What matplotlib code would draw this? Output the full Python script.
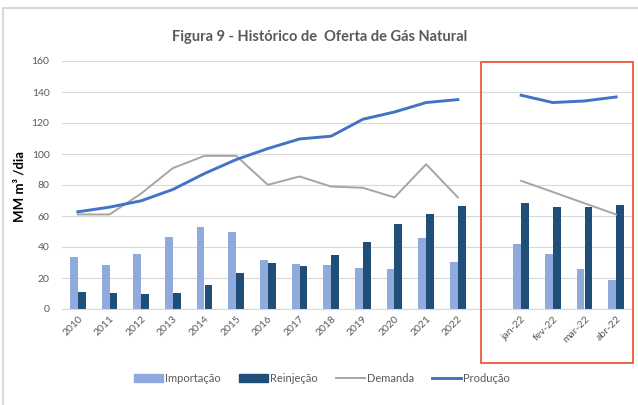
import numpy as np
import matplotlib
matplotlib.use("Agg")
import matplotlib.pyplot as plt
from matplotlib.patches import Rectangle, Patch
from matplotlib.lines import Line2D

plt.rcParams["font.family"] = ["Lato", "DejaVu Sans"]

# data
years = ["2010", "2011", "2012", "2013", "2014", "2015", "2016",
         "2017", "2018", "2019", "2020", "2021", "2022"]
months = ["jan-22", "fev-22", "mar-22", "abr-22"]

importacao_anos = [33.7, 28.4, 35.7, 46.4, 52.6, 50.0, 31.4, 29.0, 28.4, 26.6, 25.8, 45.5, 30.3]
importacao_meses = [41.9, 35.7, 25.8, 18.7]
reinjecao_anos = [11.2, 10.3, 9.5, 10.3, 15.7, 23.4, 29.5, 27.5, 34.8, 43.0, 54.8, 61.0, 66.4]
reinjecao_meses = [68.1, 65.5, 65.5, 67.2]
demanda_anos = [61.0, 61.0, 74.5, 90.9, 98.8, 98.8, 80.1, 85.5, 79.0, 78.2, 72.0, 93.4, 72.0]
demanda_meses = [82.7, 75.5, 68.2, 61.0]
producao_anos = [62.7, 65.7, 69.8, 77.1, 87.4, 96.4, 103.5, 109.7, 111.5, 122.4, 127.1, 133.2, 135.1]
producao_meses = [137.9, 133.2, 134.2, 136.8]

# one empty slot between the yearly and monthly blocks
labels = years + [""] + months
gap = [np.nan]
importacao = np.array(importacao_anos + gap + importacao_meses)
reinjecao = np.array(reinjecao_anos + gap + reinjecao_meses)
demanda = np.array(demanda_anos + gap + demanda_meses)
producao = np.array(producao_anos + gap + producao_meses)
x = np.arange(len(labels))

C_IMP = "#8FAADC"
C_REI = "#1F4E79"
C_DEM = "#A5A5A5"
C_PRO = "#4472C4"
TXT = "#595959"

fig = plt.figure(figsize=(6.38, 4.05), dpi=100)
ax = fig.add_axes([62 / 638, 96 / 405, 570 / 638, 248 / 405])

w = 0.25
ax.bar(x - w / 2, importacao, width=w, color=C_IMP, zorder=2)
ax.bar(x + w / 2, reinjecao, width=w, color=C_REI, zorder=2)
ax.plot(x, demanda, color=C_DEM, lw=1.4, zorder=3)
ax.plot(x, producao, color=C_PRO, lw=2.1, zorder=4)

ax.set_xlim(-0.5, len(labels) - 0.5)
ax.set_ylim(0, 160)
ax.set_yticks(range(0, 161, 20))
ax.yaxis.grid(True, color="#D9D9D9", lw=0.8, zorder=0)
ax.set_axisbelow(True)
for side in ("top", "right", "left"):
    ax.spines[side].set_visible(False)
ax.spines["bottom"].set_color("#D9D9D9")
ax.tick_params(length=0, labelsize=7.5, labelcolor=TXT)
ax.tick_params(axis="y", pad=9)
ax.set_xticks(x)
ax.set_xticklabels(labels, rotation=45, ha="right", rotation_mode="anchor")
ax.tick_params(axis="x", pad=4)

fig.text(20 / 638, 1 - 186 / 405, "MM m³ /dia", rotation=90, ha="center", va="center",
         fontsize=9.5, fontweight="bold", color="black")

fig.text(320 / 638, 1 - 37 / 405, "Figura 9 - Histórico de  Oferta de Gás Natural",
         ha="center", va="center", fontsize=10.5, fontweight="bold", color=TXT)

handles = [
    Patch(color=C_IMP, label="Importação"),
    Patch(color=C_REI, label="Reinjeção"),
    Line2D([], [], color=C_DEM, lw=1.4, label="Demanda"),
    Line2D([], [], color=C_PRO, lw=2.1, label="Produção"),
]
fig.legend(handles=handles, loc="center", bbox_to_anchor=(322 / 638, 1 - 378 / 405),
           ncol=4, frameon=False, fontsize=8, labelcolor=TXT, handlelength=2.6,
           handletextpad=0.2, columnspacing=1.6)

# highlight box around the monthly block and outer chart frame
fig.add_artist(Rectangle((481 / 638, 1 - 363 / 405), 152 / 638, 301 / 405,
                         transform=fig.transFigure, fill=False,
                         edgecolor="#EE4B2B", lw=1.2))
fig.add_artist(Rectangle((3 / 638, -0.01), 1, 1 - 8 / 405 + 0.01,
                         transform=fig.transFigure, fill=False,
                         edgecolor="#D9D9D9", lw=1.5))

fig.savefig("out.png", dpi=100)
